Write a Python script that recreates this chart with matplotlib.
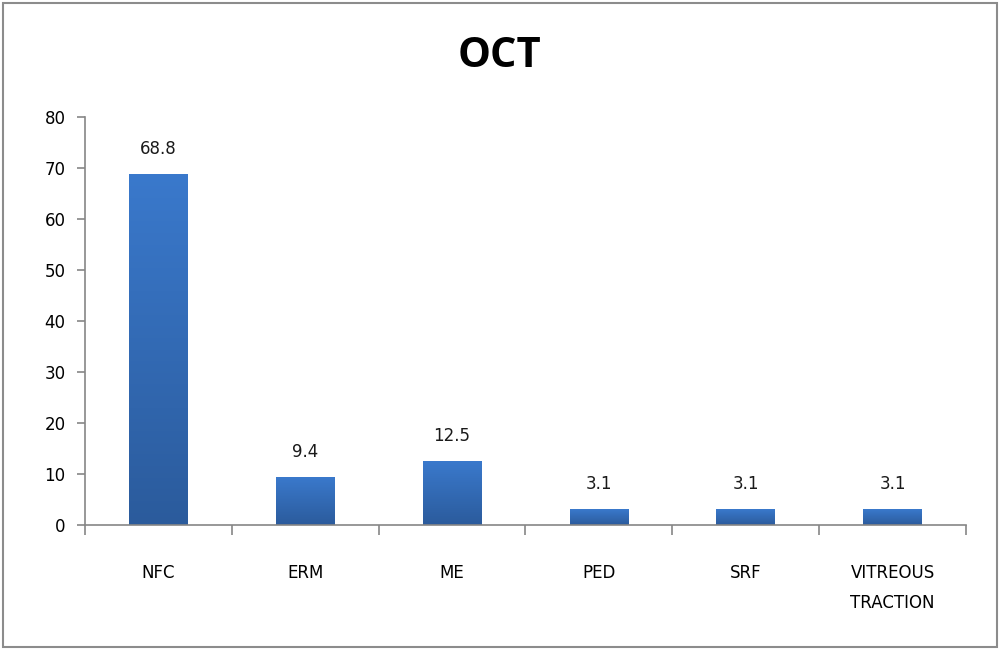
import numpy as np
import matplotlib.pyplot as plt
from matplotlib.colors import LinearSegmentedColormap
from matplotlib.patches import Rectangle

# Data
categories = ['NFC', 'ERM', 'ME', 'PED', 'SRF', 'VITREOUS\nTRACTION']
values = [68.8, 9.4, 12.5, 3.1, 3.1, 3.1]
yticks = [0, 10, 20, 30, 40, 50, 60, 70, 80]

fig = plt.figure(figsize=(10, 6.5), dpi=100)
fig.patch.set_facecolor('white')
# outer chart border
fig.patches.append(Rectangle((0.003, 0.004), 0.994, 0.992, transform=fig.transFigure,
                             fill=False, edgecolor='#8c8c8c', linewidth=1.5))

ax = fig.add_axes([0.085, 0.1923, 0.881, 0.6277])

x = np.arange(len(categories))
width = 0.4
bars = ax.bar(x, values, width=width, color='none', edgecolor='none', zorder=2)

# vertical gradient fill for each bar
cmap = LinearSegmentedColormap.from_list('bar', ['#2b5b9c', '#3a79cc'])
grad = np.linspace(0, 1, 256).reshape(-1, 1)
for b in bars:
    x0, y0 = b.get_x(), b.get_y()
    w, h = b.get_width(), b.get_height()
    im = ax.imshow(grad, cmap=cmap, origin='lower', aspect='auto',
                   extent=[x0, x0 + w, y0, y0 + h], zorder=2)
    im.set_clip_path(b)
    ax.text(x0 + w / 2, h + 3.2, f'{h:.1f}', ha='center', va='bottom',
            fontsize=12, family='DejaVu Sans', color='#1a1a1a')

ax.set_xlim(-0.5, len(categories) - 0.5)
ax.set_ylim(0, 80)

for side in ['top', 'right']:
    ax.spines[side].set_visible(False)
for side in ['left', 'bottom']:
    ax.spines[side].set_color('#868686')
    ax.spines[side].set_linewidth(1.2)

ax.set_yticks(yticks)
ax.set_yticklabels([str(t) for t in yticks], fontsize=12, family='DejaVu Sans')
ax.tick_params(axis='y', direction='out', length=6, width=1.2, color='#868686', pad=8)

# ticks between categories, labels centered on bars
ax.set_xticks(np.arange(-0.5, len(categories), 1.0))
ax.set_xticklabels([])
ax.tick_params(axis='x', which='major', direction='out', length=7, width=1.2, color='#868686')
ax.set_xticks(x, minor=True)
ax.set_xticklabels(categories, minor=True, fontsize=12, family='DejaVu Sans',
                   linespacing=1.9)
ax.tick_params(axis='x', which='minor', length=0, pad=28)

fig.text(0.5, 0.913, 'OCT', ha='center', va='center', fontsize=30,
         fontweight='bold', family='Open Sans')

fig.savefig('out.png', dpi=100)
